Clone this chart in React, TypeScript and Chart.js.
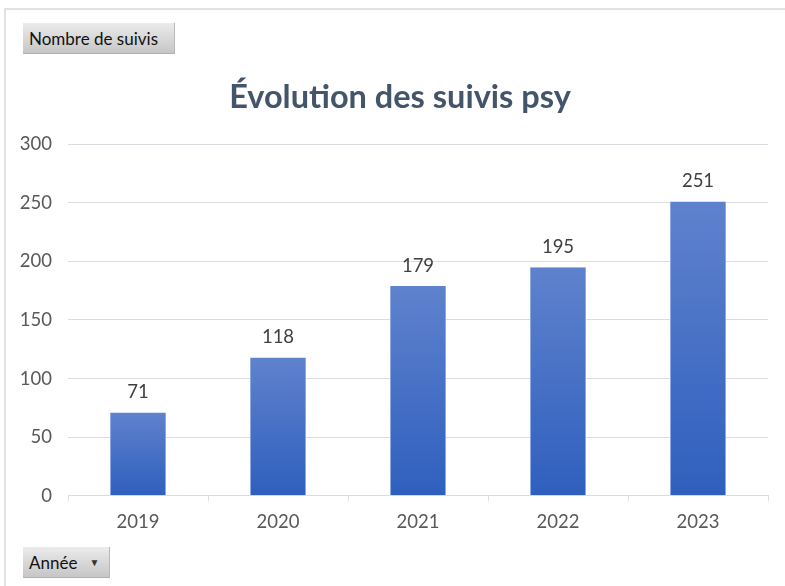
import React, { useEffect, useRef } from "react";
import { Chart, registerables } from "chart.js";

Chart.register(...registerables);

const categories = ["2019", "2020", "2021", "2022", "2023"];
const values = [71, 118, 179, 195, 251];
const yMin = 0;
const yMax = 300;
const yStep = 50;
const titleText = "Évolution des suivis psy";
const fieldButtonValue = "Nombre de suivis";
const fieldButtonAxis = "Année";

const FONT = "Lato, 'Open Sans', sans-serif";

const labelPlugin = {
  id: "valueLabels",
  afterDatasetsDraw(chart: any) {
    const c = chart.ctx;
    const meta = chart.getDatasetMeta(0);
    c.save();
    c.font = `18.5px ${FONT}`;
    c.fillStyle = "#404040";
    c.textAlign = "center";
    c.textBaseline = "bottom";
    meta.data.forEach((el: any, i: number) => {
      c.fillText(String(chart.data.datasets[0].data[i]), el.x, el.y - 11);
    });
    c.restore();
  },
};

const titlePlugin = {
  id: "customTitle",
  afterDraw(chart: any) {
    const c = chart.ctx;
    c.save();
    c.font = `bold 32.5px ${FONT}`;
    c.fillStyle = "#44546a";
    c.textAlign = "center";
    c.textBaseline = "alphabetic";
    c.fillText(titleText, 400, 108);
    c.restore();
  },
};

export default function App() {
  const ref = useRef<HTMLCanvasElement>(null);

  useEffect(() => {
    const canvas = ref.current!;
    const chart = new Chart(canvas, {
      type: "bar",
      data: {
        labels: categories,
        datasets: [
          {
            data: values,
            backgroundColor: (ctx: any) => {
              const ch = ctx.chart;
              const y = ch.scales && ch.scales.y;
              if (!ch.chartArea || !y || ctx.type !== "data") return "#4472c4";
              const top = y.getPixelForValue(values[ctx.dataIndex]);
              const bottom = y.getPixelForValue(0);
              const g = ch.ctx.createLinearGradient(0, top, 0, bottom);
              g.addColorStop(0, "#5f82cd");
              g.addColorStop(1, "#2f5fbe");
              return g;
            },
            borderColor: "#8ea9df",
            borderWidth: { left: 1, right: 1, top: 0, bottom: 0 },
            borderSkipped: false,
            categoryPercentage: 1,
            barPercentage: 0.4,
          },
        ],
      },
      options: {
        responsive: false,
        animation: false,
        devicePixelRatio: 1,
        layout: { padding: { left: 0, right: 17, top: 144, bottom: 43 } },
        plugins: {
          legend: { display: false },
          title: { display: false },
          tooltip: { enabled: false },
        },
        scales: {
          x: {
            grid: {
              display: true,
              drawOnChartArea: false,
              drawTicks: true,
              tickLength: 5,
              offset: true,
              color: "#d9dce1",
            },
            border: { display: true, color: "#d9dce1", width: 1 },
            ticks: {
              color: "#595959",
              font: { family: FONT, size: 18.5 },
              padding: 10,
            },
          },
          y: {
            min: yMin,
            max: yMax,
            afterFit: (s: any) => {
              s.width = 68;
            },
            grid: { color: "#d9dce1", drawTicks: false, lineWidth: 1 },
            border: { display: false },
            ticks: {
              stepSize: yStep,
              color: "#595959",
              font: { family: FONT, size: 18.5 },
              padding: 16,
            },
          },
        },
      },
      plugins: [labelPlugin, titlePlugin],
    });
    return () => chart.destroy();
  }, []);

  const btn: React.CSSProperties = {
    position: "absolute",
    left: 23,
    height: 31,
    boxSizing: "border-box",
    background: "linear-gradient(#ebebeb, #c6c6c6)",
    borderRight: "1px solid #b8b8b8",
    borderBottom: "1px solid #b0b0b0",
    fontFamily: FONT,
    fontSize: 17,
    color: "#111",
    display: "flex",
    alignItems: "center",
    paddingLeft: 6,
  };

  return (
    <div
      style={{
        position: "fixed",
        left: 0,
        top: 0,
        width: 785,
        height: 586,
        background: "#fff",
        overflow: "hidden",
      }}
    >
      <div
        style={{
          position: "absolute",
          left: 4,
          top: 8,
          width: 900,
          height: 700,
          borderLeft: "2px solid #dfe3e8",
          borderTop: "2px solid #dfe3e8",
        }}
      />
      <canvas
        ref={ref}
        width={785}
        height={586}
        style={{ position: "absolute", left: 0, top: 0, width: 785, height: 586 }}
      />
      <div style={{ ...btn, top: 23, width: 152 }}>{fieldButtonValue}</div>
      <div style={{ ...btn, top: 547, width: 87 }}>
        <span>{fieldButtonAxis}</span>
        <span style={{ fontSize: 10, marginLeft: 12, color: "#333" }}>▼</span>
      </div>
    </div>
  );
}
